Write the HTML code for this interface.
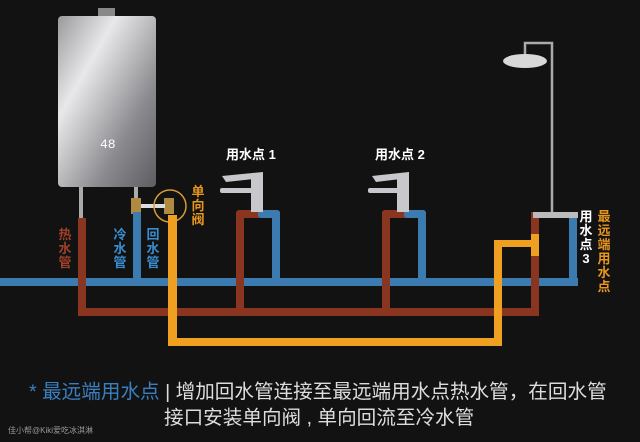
<!DOCTYPE html>
<html><head><meta charset="utf-8"><style>
body{margin:0;background:#121212;width:640px;height:442px;overflow:hidden;position:relative;font-family:"Liberation Sans","Noto Sans CJK SC",sans-serif}
.t{position:absolute;font-weight:bold;line-height:1;}
.v{width:14px;text-align:center;font-size:13px;line-height:14px;}
</style></head><body>
<svg width="640" height="442" style="position:absolute;left:0;top:0">
<defs>
<linearGradient id="hg" x1="0" y1="0" x2="1" y2="1">
<stop offset="0" stop-color="#9a9a9c"/><stop offset="0.3" stop-color="#e8e8ea"/><stop offset="0.7" stop-color="#8a8a8e"/><stop offset="1" stop-color="#5e5e62"/></linearGradient>
</defs>
<rect x="98" y="8" width="17" height="9" fill="#888"/>
<rect x="58" y="16" width="98" height="171" rx="4" fill="url(#hg)"/>
<text x="100" y="148" fill="#fff" font-size="13" font-family="Liberation Mono">48</text>
<rect x="79" y="187" width="4" height="32" fill="#aaa"/>
<rect x="134" y="187" width="4" height="15" fill="#aaa"/>
<rect x="131" y="198" width="10" height="16" fill="#b08a40"/>
<rect x="164" y="198" width="10" height="16" fill="#b08a40"/>
<rect x="141" y="204" width="24" height="4" fill="#ddd"/>
<circle cx="170" cy="206" r="16" fill="none" stroke="#d79b2c" stroke-width="1.5"/>
<rect x="0" y="278" width="578" height="8" fill="#3c7bb0"/>
<rect x="133" y="212" width="8" height="70" fill="#3c7bb0"/>
<rect x="272" y="212" width="8" height="70" fill="#3c7bb0"/>
<rect x="418" y="212" width="8" height="70" fill="#3c7bb0"/>
<rect x="569" y="212" width="8" height="74" fill="#3c7bb0"/>
<rect x="78" y="218" width="8" height="98" fill="#8a3520"/>
<rect x="78" y="308" width="461" height="8" fill="#8a3520"/>
<rect x="236" y="212" width="8" height="100" fill="#8a3520"/>
<rect x="382" y="212" width="8" height="100" fill="#8a3520"/>
<rect x="531" y="212" width="8" height="104" fill="#8a3520"/>
<rect x="236" y="210" width="44" height="8" rx="3" fill="#8a3520"/><rect x="258" y="210" width="22" height="8" rx="3" fill="#3c7bb0"/>
<rect x="244" y="218" width="28" height="60" fill="#111"/>
<rect x="382" y="210" width="44" height="8" rx="3" fill="#8a3520"/><rect x="404" y="210" width="22" height="8" rx="3" fill="#3c7bb0"/>
<rect x="390" y="218" width="28" height="60" fill="#111"/>
<rect x="539" y="218" width="30" height="60" fill="#111"/>
<rect x="168" y="215" width="9" height="131" fill="#f0a020"/>
<rect x="168" y="338" width="334" height="8" fill="#f0a020"/>
<rect x="494" y="240" width="8" height="106" fill="#f0a020"/>
<rect x="494" y="240" width="44" height="7" fill="#f0a020"/>
<rect x="531" y="234" width="8" height="22" fill="#f0a020"/>
<g fill="#c8c8cc"><rect x="251" y="174" width="12" height="38"/><path d="M222 176 L263 172 L263 178 L226 182 Z"/><rect x="220" y="188" width="34" height="5" rx="2"/></g>
<g fill="#c8c8cc"><rect x="397" y="174" width="12" height="38"/><path d="M372 176 L409 172 L409 178 L376 182 Z"/><rect x="368" y="188" width="34" height="5" rx="2"/></g>
<path d="M525 58 L525 43 L552 43 L552 214" stroke="#aaa" stroke-width="2.5" fill="none"/>
<ellipse cx="525" cy="61" rx="22" ry="7" fill="#d8d8d8"/>
<rect x="533" y="212" width="45" height="6" fill="#bbb"/>
</svg>
<div class="t" style="left:226px;top:148px;color:#fff;font-size:13px">用水点 1</div>
<div class="t" style="left:375px;top:148px;color:#fff;font-size:13px">用水点 2</div>
<div class="t v" style="left:579px;top:210px;color:#fff">用水点3</div>
<div class="t v" style="left:597px;top:210px;color:#e8961e">最远端用水点</div>
<div class="t v" style="left:191px;top:185px;color:#e8961e">单向阀</div>
<div class="t v" style="left:58px;top:228px;color:#a0402a">热水管</div>
<div class="t v" style="left:113px;top:228px;color:#3a8ed0">冷水管</div>
<div class="t v" style="left:146px;top:228px;color:#3a8ed0">回水管</div>
<div style="position:absolute;left:29px;top:375px;font-size:19.6px;color:#ddd;white-space:nowrap"><span style="color:#3a7fc0">* 最远端用水点</span> | 增加回水管连接至最远端用水点热水管，在回水管</div>
<div style="position:absolute;left:164px;top:401px;font-size:19.6px;color:#ddd;white-space:nowrap">接口安装单向阀 , 单向回流至冷水管</div>
<div style="position:absolute;left:8px;top:425px;font-size:8px;color:#999">佳小帮@Kiki爱吃冰淇淋</div>
</body></html>
